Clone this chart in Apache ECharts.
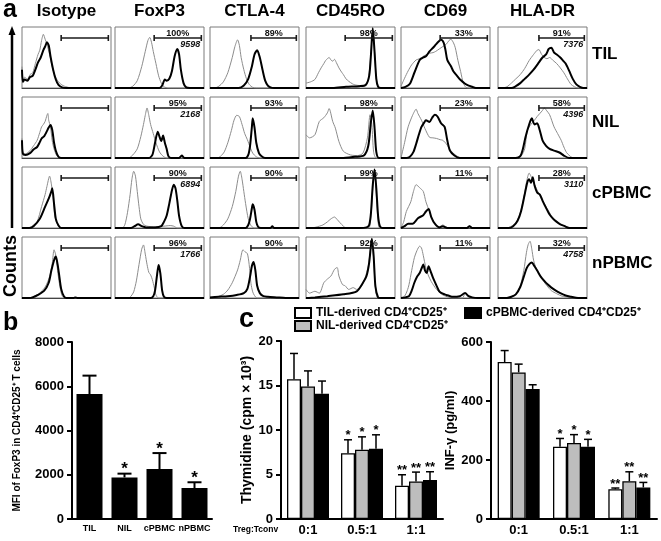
<!DOCTYPE html>
<html><head><meta charset="utf-8">
<script src="https://cdn.jsdelivr.net/npm/echarts@6/dist/echarts.min.js"></script>
<style>html,body{margin:0;padding:0;background:#fff}#c{width:661px;height:541px}</style>
</head><body><div id="c"></div>
<script>
// ---------- Panel a: flow cytometry histograms ----------
const markers = ['Isotype', 'FoxP3', 'CTLA-4', 'CD45RO', 'CD69', 'HLA-DR'];
const sources = ['TIL', 'NIL', 'cPBMC', 'nPBMC'];
const pctLabels = [
  ['', '100%', '89%', '98%', '33%', '91%'],
  ['', '95%', '93%', '98%', '23%', '58%'],
  ['', '90%', '90%', '99%', '11%', '28%'],
  ['', '96%', '90%', '92%', '11%', '32%']
];
const mfiLabels = [
  ['', '9598', '', '', '', '7376'],
  ['', '2168', '', '', '', '4396'],
  ['', '6894', '', '', '', '3110'],
  ['', '1766', '', '', '', '4758']
];
const gateFrom = [44, 44, 46, 44, 44, 46];
const gateTo = [97, 97, 97, 97, 97, 97];
const gateLevel = 82;

// gray = control (thin), black = stained (thick); [x%, height%]
const gTIL_Iso = [[0,35],[1,12],[3,18],[6,14],[9,22],[12,25],[15,40],[18,55],[20,62],[22,78],[24,88],[26,80],[28,72],[31,55],[34,35],[37,20],[41,10],[46,4],[52,1],[57,0],[100,0]];
const bTIL_Iso = [[0,30],[1,10],[3,14],[6,12],[9,18],[12,20],[15,30],[18,42],[21,50],[24,62],[26,68],[28,75],[30,70],[32,52],[35,30],[38,14],[41,5],[45,1],[50,0],[100,0]];
const gTIL_Fox = [[0,0],[15,0],[20,3],[25,12],[30,35],[34,60],[37,78],[39,83],[41,75],[43,60],[46,40],[49,20],[52,8],[55,2],[60,0],[100,0]];
const bTIL_Fox = [[0,0],[50,0],[53,4],[56,14],[58,12],[61,15],[64,28],[67,52],[70,64],[72,55],[74,30],[77,8],[80,1],[84,0],[100,0]];
const gTIL_Ctla = [[0,0],[5,0],[10,3],[15,10],[20,25],[25,50],[28,68],[31,79],[33,70],[35,50],[38,30],[41,15],[44,6],[48,1],[52,0],[100,0]];
const bTIL_Ctla = [[0,0],[32,0],[38,4],[43,15],[47,35],[50,55],[53,62],[56,50],[59,30],[62,12],[65,4],[68,1],[72,0],[100,0]];
const gTIL_Ro = [[0,8],[5,10],[10,14],[14,25],[17,33],[20,40],[22,45],[24,48],[26,50],[28,46],[30,44],[32,47],[34,42],[37,33],[40,26],[42,22],[45,15],[48,11],[52,7],[55,5],[60,4],[64,3],[68,5],[71,25],[73,60],[75,95],[77,60],[79,15],[81,2],[84,0],[100,0]];
const bTIL_Ro = [[0,0],[30,0],[45,2],[60,3],[67,5],[71,20],[73,55],[75,98],[77,60],[79,15],[81,2],[84,0],[100,0]];
const gTIL_69 = [[0,3],[4,16],[8,28],[12,38],[17,46],[21,48],[25,52],[29,55],[32,57],[36,58],[39,60],[43,64],[47,68],[51,72],[54,78],[56,80],[59,74],[61,66],[64,45],[67,27],[70,8],[73,1],[76,0],[100,0]];
const bTIL_69 = [[0,0],[5,2],[10,7],[15,25],[21,46],[25,50],[28,52],[32,60],[36,66],[39,71],[42,76],[45,79],[48,74],[50,62],[52,46],[56,36],[59,27],[63,20],[67,13],[72,7],[76,4],[80,2],[84,0],[100,0]];
const gTIL_Dr = [[0,0],[5,0],[10,2],[15,8],[20,15],[25,22],[30,32],[35,45],[40,55],[44,62],[46,63],[49,55],[52,50],[55,48],[58,50],[62,45],[66,40],[70,33],[74,25],[78,15],[82,6],[86,2],[90,0],[100,0]];
const bTIL_Dr = [[0,0],[15,0],[20,3],[25,8],[30,15],[35,22],[40,30],[45,40],[50,50],[54,55],[57,64],[60,66],[63,58],[66,55],[70,50],[73,45],[76,40],[80,28],[84,15],[88,6],[92,2],[96,0],[100,0]];

const gNIL_Iso = [[0,32],[1,8],[4,7],[9,12],[13,20],[17,29],[20,42],[22,51],[24,55],[26,60],[28,70],[29,73],[30,62],[32,51],[34,28],[36,15],[39,4],[43,0],[100,0]];
const bNIL_Iso = [[0,29],[1,7],[4,5],[9,8],[13,14],[17,18],[20,26],[22,32],[25,36],[28,44],[30,50],[32,54],[34,46],[36,25],[38,12],[41,2],[44,0],[100,0]];
const gNIL_Fox = [[0,0],[15,0],[20,5],[25,15],[29,35],[32,55],[34,70],[36,82],[38,70],[40,55],[43,40],[46,25],[50,10],[54,3],[58,0],[100,0]];
const bNIL_Fox = [[0,0],[38,0],[42,5],[45,25],[48,43],[50,35],[52,28],[54,37],[56,25],[58,15],[60,3],[63,0],[72,0],[75,4],[78,0],[100,0]];
const gNIL_Ctla = [[0,0],[8,0],[12,3],[16,10],[20,25],[24,45],[27,62],[30,70],[33,68],[36,55],[39,40],[42,30],[45,18],[48,8],[52,2],[56,0],[100,0]];
const bNIL_Ctla = [[0,0],[40,0],[43,5],[45,20],[47,50],[48,65],[50,50],[52,25],[55,8],[58,3],[62,0],[100,0]];
const gNIL_Ro = [[0,38],[4,33],[10,38],[15,60],[20,66],[24,74],[26,81],[30,60],[33,49],[37,27],[42,11],[50,5],[58,4],[64,8],[69,33],[72,71],[74,55],[76,10],[79,0],[100,0]];
const bNIL_Ro = [[0,0],[40,0],[55,2],[65,4],[70,20],[73,60],[75,78],[77,50],[79,10],[82,0],[100,0]];
const gNIL_69 = [[0,0],[4,25],[8,51],[13,70],[17,80],[19,73],[23,62],[27,48],[32,34],[36,33],[40,32],[44,30],[47,29],[51,23],[56,12],[62,4],[68,0],[100,0]];
const bNIL_69 = [[0,0],[6,0],[10,2],[14,10],[17,23],[20,38],[23,51],[26,58],[28,62],[32,59],[35,66],[38,71],[41,68],[45,57],[49,51],[52,29],[55,12],[60,4],[66,0],[100,0]];
const gNIL_Dr = [[0,0],[22,0],[26,3],[30,15],[33,45],[37,55],[41,62],[44,68],[47,73],[50,78],[52,82],[55,77],[58,71],[63,51],[67,40],[71,29],[74,18],[77,9],[81,3],[85,0],[100,0]];
const bNIL_Dr = [[0,0],[20,0],[25,3],[28,15],[31,35],[35,55],[38,65],[41,55],[44,57],[47,45],[50,29],[54,20],[58,15],[63,12],[69,9],[74,4],[80,0],[100,0]];

const gCP_Iso = [[0,0],[5,0],[9,1],[13,5],[17,10],[22,35],[26,55],[28,68],[31,85],[33,72],[35,50],[37,18],[41,3],[44,0],[100,0]];
const bCP_Iso = [[0,0],[8,0],[13,3],[20,15],[26,35],[29,45],[31,52],[33,60],[34,65],[36,40],[38,15],[41,4],[44,0],[100,0]];
const gCP_Fox = [[0,0],[8,0],[11,5],[14,25],[17,55],[19,80],[21,93],[23,85],[25,60],[27,35],[29,15],[32,6],[36,3],[45,2],[55,3],[62,4],[66,3],[70,0],[100,0]];
const bCP_Fox = [[0,0],[18,0],[22,3],[26,6],[30,3],[35,1],[45,1],[52,3],[55,10],[58,20],[61,40],[64,62],[66,71],[68,65],[70,45],[72,20],[75,3],[78,0],[100,0]];
const gCP_Ctla = [[0,0],[10,0],[15,5],[20,15],[25,35],[29,60],[32,85],[34,93],[36,80],[38,60],[40,40],[43,15],[46,4],[50,0],[100,0]];
const bCP_Ctla = [[0,0],[40,0],[43,5],[45,15],[47,32],[48,39],[50,30],[52,10],[54,2],[57,0],[68,0],[70,3],[72,0],[100,0]];
const gCP_Ro = [[0,0],[10,1],[15,3],[19,5],[24,10],[28,15],[32,18],[35,14],[38,9],[42,3],[45,0],[70,0],[73,20],[75,65],[77,92],[79,55],[81,10],[83,0],[100,0]];
const bCP_Ro = [[0,0],[60,0],[68,1],[71,5],[73,25],[75,70],[77,96],[79,65],[81,20],[83,3],[86,0],[100,0]];
const gCP_69 = [[0,0],[3,10],[6,27],[11,43],[14,60],[17,71],[21,66],[25,60],[28,43],[32,27],[35,15],[38,7],[43,2],[47,5],[50,2],[54,0],[74,0],[77,4],[80,0],[100,0]];
const bCP_69 = [[0,0],[4,3],[8,7],[13,7],[19,16],[25,21],[28,27],[31,31],[34,18],[38,7],[43,1],[47,3],[52,0],[74,0],[77,3],[80,0],[100,0]];
const gCP_Dr = [[0,0],[10,0],[15,3],[20,8],[25,25],[29,50],[32,75],[35,90],[37,85],[40,75],[44,62],[48,50],[52,40],[56,30],[60,20],[65,12],[70,6],[75,3],[80,1],[85,0],[100,0]];
const bCP_Dr = [[0,0],[12,0],[17,3],[22,12],[26,28],[30,55],[33,75],[35,80],[37,74],[39,83],[41,70],[44,58],[47,55],[50,45],[54,33],[58,22],[62,15],[66,10],[70,6],[75,3],[80,0],[100,0]];

const gNP_Iso = [[0,0],[8,0],[12,2],[19,7],[26,18],[31,35],[34,57],[36,79],[38,70],[40,45],[42,24],[45,4],[49,0],[100,0]];
const bNP_Iso = [[0,0],[8,0],[12,1],[18,5],[25,12],[30,25],[33,45],[36,62],[38,68],[40,55],[42,35],[44,15],[47,3],[50,0],[58,0],[60,1],[62,0],[100,0]];
const gNP_Fox = [[0,0],[15,0],[18,3],[21,10],[24,28],[27,55],[30,80],[32,87],[34,72],[36,55],[38,42],[40,38],[42,30],[44,18],[46,5],[49,0],[100,0]];
const bNP_Fox = [[0,0],[40,0],[43,3],[45,12],[47,35],[49,54],[51,40],[53,12],[55,2],[58,0],[100,0]];
const gNP_Ctla = [[0,1],[8,2],[15,6],[20,13],[25,25],[31,46],[34,62],[37,79],[40,75],[42,73],[44,55],[46,24],[48,10],[50,4],[53,0],[100,0]];
const bNP_Ctla = [[0,1],[10,2],[20,3],[30,5],[38,8],[42,15],[45,35],[47,52],[49,59],[51,45],[53,20],[56,8],[60,3],[65,2],[75,1],[85,0],[100,0]];
const gNP_Ro = [[0,14],[4,8],[10,11],[15,8],[20,25],[24,31],[28,36],[32,47],[35,50],[37,36],[41,22],[44,20],[48,14],[53,17],[57,14],[62,19],[66,31],[70,53],[72,75],[74,95],[76,65],[78,18],[81,0],[100,0]];
const bNP_Ro = [[0,0],[10,1],[24,3],[42,6],[57,11],[64,25],[68,36],[71,58],[74,97],[76,69],[78,19],[81,1],[84,0],[100,0]];
const gNP_69 = [[0,0],[4,3],[7,12],[9,22],[12,45],[15,66],[18,78],[21,85],[23,82],[25,70],[28,49],[31,36],[34,27],[37,20],[40,14],[44,8],[47,5],[52,2],[57,0],[69,0],[72,7],[75,3],[78,0],[100,0]];
const bNP_69 = [[0,0],[5,1],[9,3],[12,12],[15,25],[18,35],[21,41],[23,48],[25,55],[27,45],[29,41],[31,52],[33,45],[36,33],[40,20],[43,11],[47,7],[51,5],[55,3],[58,2],[66,3],[72,8],[76,3],[80,1],[86,0],[100,0]];
const gNP_Dr = [[0,0],[10,0],[15,2],[20,6],[25,20],[29,45],[32,75],[34,88],[36,93],[38,80],[40,62],[43,48],[47,38],[51,28],[55,20],[60,12],[66,7],[72,3],[80,1],[88,0],[100,0]];
const bNP_Dr = [[0,0],[10,0],[15,2],[20,6],[25,18],[29,35],[32,48],[35,55],[38,58],[41,52],[44,45],[48,35],[52,28],[56,22],[60,17],[65,12],[70,8],[76,4],[82,2],[90,0],[100,0]];

// ---------- Panel b ----------
const mfiCategories = ['TIL', 'NIL', 'cPBMC', 'nPBMC'];
const mfiMean = [5650, 1880, 2260, 1400];
const mfiErrTop = [6480, 2050, 2980, 1660];
const mfiStars = ['', '*', '*', '*'];

// ---------- Panel c ----------
const ratioCats = ['0:1', '0.5:1', '1:1'];
const cellNames = ['TIL-derived CD4\u207ACD25\u207A', 'NIL-derived CD4\u207ACD25\u207A', 'cPBMC-derived CD4\u207ACD25\u207A'];
const thyTIL = [15.7, 7.4, 3.74];
const thyTILErr = [18.6, 8.9, 4.97];
const thyNIL = [14.88, 7.78, 4.22];
const thyNILErr = [16.64, 9.23, 5.27];
const thyCP = [14.06, 7.89, 4.37];
const thyCPErr = [15.5, 9.46, 5.31];
const ifnTIL = [532, 245, 101];
const ifnTILErr = [571, 273, 105];
const ifnNIL = [497, 258, 128];
const ifnNILErr = [525, 286, 160];
const ifnCP = [441, 245, 107];
const ifnCPErr = [455, 270, 124];
const ratioStars = ['', '*', '**'];

// ---------- build ----------
const FONT = 'Liberation Sans, Arial, Helvetica, sans-serif';
const curveTable = [
  [[gTIL_Iso,bTIL_Iso],[gTIL_Fox,bTIL_Fox],[gTIL_Ctla,bTIL_Ctla],[gTIL_Ro,bTIL_Ro],[gTIL_69,bTIL_69],[gTIL_Dr,bTIL_Dr]],
  [[gNIL_Iso,bNIL_Iso],[gNIL_Fox,bNIL_Fox],[gNIL_Ctla,bNIL_Ctla],[gNIL_Ro,bNIL_Ro],[gNIL_69,bNIL_69],[gNIL_Dr,bNIL_Dr]],
  [[gCP_Iso,bCP_Iso],[gCP_Fox,bCP_Fox],[gCP_Ctla,bCP_Ctla],[gCP_Ro,bCP_Ro],[gCP_69,bCP_69],[gCP_Dr,bCP_Dr]],
  [[gNP_Iso,bNP_Iso],[gNP_Fox,bNP_Fox],[gNP_Ctla,bNP_Ctla],[gNP_Ro,bNP_Ro],[gNP_69,bNP_69],[gNP_Dr,bNP_Dr]]
];
const colLeft = [22, 115, 210, 306, 401, 498];
const rowTop = [27, 97, 167, 237];
const panelW = 89, panelH = 61;

const grid = [], xAxis = [], yAxis = [], series = [], graphic = [];

sources.forEach((src, r) => {
  markers.forEach((mk, c) => {
    const gi = r * 6 + c;
    grid.push({left: colLeft[c], top: rowTop[r], width: panelW, height: panelH,
      show: true, borderColor: '#7a7a7a', borderWidth: 1, backgroundColor: '#fff'});
    xAxis.push({gridIndex: gi, type: 'value', min: 0, max: 100, axisLine: {show: true, onZero: false, lineStyle: {color: '#444', width: 1}},
      axisTick: {show: false}, axisLabel: {show: false}, splitLine: {show: false}});
    yAxis.push({gridIndex: gi, type: 'value', min: 0, max: 100, show: false, splitLine: {show: false}});
    const [gray, black] = curveTable[r][c];
    series.push({type: 'line', xAxisIndex: gi, yAxisIndex: gi, data: gray, symbol: 'none', smooth: 0.25,
      lineStyle: {color: '#8c8c8c', width: 1}, silent: true, z: 2});
    series.push({type: 'line', xAxisIndex: gi, yAxisIndex: gi, data: black, symbol: 'none', smooth: 0.25,
      lineStyle: {color: '#000', width: 2}, silent: true, z: 3});
    const pct = pctLabels[r][c], mfi = mfiLabels[r][c];
    series.push({type: 'custom', xAxisIndex: gi, yAxisIndex: gi, silent: true, z: 4,
      data: [[gateFrom[c], gateTo[c], gateLevel]],
      renderItem: (params, api) => {
        const p1 = api.coord([api.value(0), api.value(2)]);
        const p2 = api.coord([api.value(1), api.value(2)]);
        const st = {stroke: '#1a1a1a', lineWidth: 1.6};
        return {type: 'group', children: [
          {type: 'line', shape: {x1: p1[0], y1: p1[1], x2: p2[0], y2: p2[1]}, style: st},
          {type: 'line', shape: {x1: p1[0], y1: p1[1] - 3, x2: p1[0], y2: p1[1] + 3}, style: st},
          {type: 'line', shape: {x1: p2[0], y1: p2[1] - 3, x2: p2[0], y2: p2[1] + 3}, style: st},
          {type: 'text', style: {text: pct, x: (p1[0] + p2[0]) / 2, y: p1[1] + 0.5, align: 'center', verticalAlign: 'bottom',
            font: 'bold 9px ' + FONT, fill: '#111'}},
          {type: 'text', style: {text: mfi, x: p2[0] - 1, y: p1[1] + 2.5, align: 'right', verticalAlign: 'top',
            font: 'italic bold 9px ' + FONT, fill: '#111'}}
        ]};
      }});
  });
  graphic.push({type: 'text', left: 592, top: [46, 114, 185, 255][r], style: {text: src, font: 'bold 17px ' + FONT, fill: '#000'}});
});
markers.forEach((mk, c) => {
  graphic.push({type: 'text', x: colLeft[c] + panelW / 2, y: 11,
    style: {text: mk, font: 'bold 17px ' + FONT, fill: '#000', align: 'center', verticalAlign: 'middle'}});
});
graphic.push({type: 'text', x: 3, y: 10, style: {text: 'a', font: 'bold 25px ' + FONT, fill: '#000', verticalAlign: 'middle'}});
graphic.push({type: 'line', shape: {x1: 12, y1: 33, x2: 12, y2: 228}, style: {stroke: '#000', lineWidth: 2.5}});
graphic.push({type: 'polygon', shape: {points: [[12, 26], [8.5, 35], [15.5, 35]]}, style: {fill: '#000'}});
graphic.push({type: 'text', x: 11, y: 266, rotation: Math.PI / 2,
  style: {text: 'Counts', font: 'bold 18px ' + FONT, fill: '#000', align: 'center', verticalAlign: 'middle'}});
graphic.push({type: 'text', x: 3, y: 323, style: {text: 'b', font: 'bold 25px ' + FONT, fill: '#000', verticalAlign: 'middle'}});
graphic.push({type: 'text', x: 239, y: 320, style: {text: 'c', font: 'bold 27px ' + FONT, fill: '#000', verticalAlign: 'middle'}});
graphic.push({type: 'text', x: 233, y: 530, style: {text: 'Treg:Tconv', font: 'bold 8.5px ' + FONT, fill: '#000', verticalAlign: 'middle'}});

const axisCommonY = (gi, min, max, interval, name, nameGap, nameSize) => ({
  gridIndex: gi, type: 'value', min, max, interval,
  axisLine: {show: true, lineStyle: {color: '#000', width: 2}},
  axisTick: {show: true, length: 5, lineStyle: {color: '#000', width: 2}},
  axisLabel: {color: '#000', fontWeight: 'bold', fontSize: 13, margin: 8, fontFamily: FONT, formatter: v => String(v)},
  splitLine: {show: false},
  name, nameLocation: 'middle', nameGap,
  nameTextStyle: {color: '#000', fontWeight: 'bold', fontSize: nameSize, fontFamily: FONT}
});
const axisCommonX = (gi, cats, size, margin) => ({
  gridIndex: gi, type: 'category', data: cats,
  axisLine: {show: true, lineStyle: {color: '#000', width: 2}},
  axisTick: {show: false},
  axisLabel: {color: '#000', fontWeight: 'bold', fontSize: size, margin, fontFamily: FONT, interval: 0}
});

// panel b (grid 24)
grid.push({left: 72, top: 342, width: 140, height: 177});
xAxis.push(axisCommonX(24, mfiCategories, 9, 5));
yAxis.push(axisCommonY(24, 0, 8000, 2000, 'MFI of FoxP3 in CD4\u207ACD25\u207A T cells', 50, 10));
// panel c1 (grid 25), c2 (grid 26)
grid.push({left: 281, top: 341, width: 162, height: 178});
xAxis.push(axisCommonX(25, ratioCats, 13, 5));
yAxis.push(axisCommonY(25, 0, 20, 5, 'Thymidine (cpm \u00D7 10\u00B3)', 20, 14));
grid.push({left: 491, top: 342, width: 166, height: 177});
xAxis.push(axisCommonX(26, ratioCats, 13, 5));
yAxis.push(axisCommonY(26, 0, 600, 200, 'INF-\u03B3 (pg/ml)', 28, 13));

function errSeries(gi, means, tops, starsArr, offset, capW, lw, starSize) {
  return {type: 'custom', xAxisIndex: gi, yAxisIndex: gi, silent: true, z: 5,
    data: means.map((m, i) => [i, tops[i], m]),
    renderItem: (params, api) => {
      const i = api.value(0);
      const pt = api.coord([i, api.value(1)]);
      const pb = api.coord([i, api.value(2)]);
      const x = pt[0] + offset;
      const st = {stroke: '#000', lineWidth: lw};
      return {type: 'group', children: [
        {type: 'line', shape: {x1: x, y1: pb[1], x2: x, y2: pt[1]}, style: st},
        {type: 'line', shape: {x1: x - capW / 2, y1: pt[1], x2: x + capW / 2, y2: pt[1]}, style: st},
        {type: 'text', style: {text: starsArr[params.dataIndex], x: x, y: pt[1] - 4, align: 'center', verticalAlign: 'middle',
          font: 'bold ' + starSize + 'px ' + FONT, fill: '#000'}}
      ]};
    }};
}

series.push({type: 'bar', name: 'MFI', xAxisIndex: 24, yAxisIndex: 24, data: mfiMean, barWidth: 26,
  itemStyle: {color: '#000'}, silent: true});
series.push(errSeries(24, mfiMean, mfiErrTop, mfiStars, 0, 14, 2, 17));

const barStyles = [
  {color: '#fff', borderColor: '#000', borderWidth: 1.3},
  {color: '#bdbdbd', borderColor: '#000', borderWidth: 1.3},
  {color: '#000', borderColor: '#000', borderWidth: 1.3}
];
const thyMeans = [thyTIL, thyNIL, thyCP], thyErrs = [thyTILErr, thyNILErr, thyCPErr];
const ifnMeans = [ifnTIL, ifnNIL, ifnCP], ifnErrs = [ifnTILErr, ifnNILErr, ifnCPErr];
[[25, thyMeans, thyErrs], [26, ifnMeans, ifnErrs]].forEach(([gi, means, errs]) => {
  means.forEach((m, k) => {
    series.push({type: 'bar', name: cellNames[k], xAxisIndex: gi, yAxisIndex: gi, data: m,
      barWidth: 14, barGap: '0%', itemStyle: barStyles[k], silent: true});
  });
  means.forEach((m, k) => {
    series.push(errSeries(gi, m, errs[k], ratioStars, (k - 1) * 14, 8, 1.5, 13));
  });
});

const legendCommon = {orient: 'vertical', itemWidth: 16, itemHeight: 10, itemGap: 1, icon: 'rect', selectedMode: false,
  padding: 0, textStyle: {color: '#000', fontWeight: 'bold', fontSize: 12, fontFamily: FONT}};

const chart = echarts.init(document.getElementById('c'), null, {renderer: 'canvas'});
chart.setOption({
  animation: false,
  backgroundColor: '#fff',
  textStyle: {fontFamily: FONT},
  grid, xAxis, yAxis, series, graphic,
  legend: [
    Object.assign({}, legendCommon, {data: [cellNames[0], cellNames[1]], left: 294, top: 307}),
    Object.assign({}, legendCommon, {data: [cellNames[2]], left: 464, top: 307})
  ]
});
</script></body></html>
